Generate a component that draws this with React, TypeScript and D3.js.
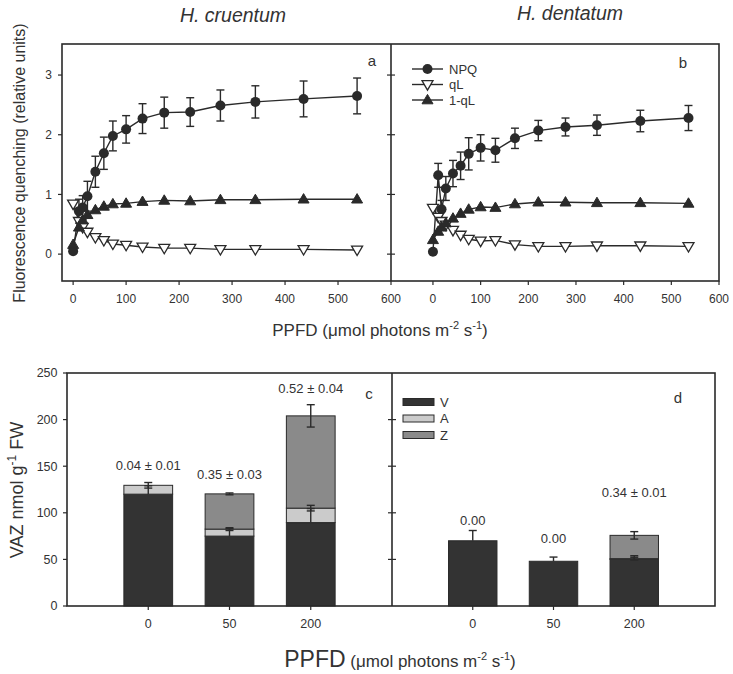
import React from "react";
import * as d3 from "d3";

// ---------- data: panels a & b (light curves) ----------
const ppfd = [0, 11, 18, 27, 42, 58, 75, 100, 131, 172, 221, 278, 344, 435, 536];

const npqCruentum = [0.05, 0.72, 0.78, 0.97, 1.38, 1.69, 1.98, 2.09, 2.27, 2.37, 2.38, 2.49, 2.55, 2.6, 2.65];
const npqCruentumErr = [0.03, 0.2, 0.2, 0.25, 0.26, 0.27, 0.25, 0.23, 0.25, 0.26, 0.24, 0.26, 0.27, 0.3, 0.3];
const qlCruentum = [0.84, 0.55, 0.45, 0.37, 0.28, 0.23, 0.17, 0.15, 0.12, 0.1, 0.1, 0.08, 0.08, 0.08, 0.07];
const oneMinusQlCruentum = [0.16, 0.45, 0.57, 0.66, 0.74, 0.8, 0.84, 0.85, 0.88, 0.9, 0.89, 0.91, 0.91, 0.92, 0.92];

const npqDentatum = [0.04, 1.32, 0.75, 1.1, 1.35, 1.48, 1.68, 1.78, 1.74, 1.94, 2.07, 2.13, 2.16, 2.23, 2.28];
const npqDentatumErr = [0.03, 0.2, 0.15, 0.2, 0.22, 0.23, 0.27, 0.22, 0.2, 0.17, 0.17, 0.15, 0.17, 0.18, 0.21];
const qlDentatum = [0.77, 0.62, 0.55, 0.49, 0.4, 0.32, 0.25, 0.22, 0.23, 0.16, 0.13, 0.13, 0.14, 0.14, 0.13];
const oneMinusQlDentatum = [0.24, 0.38, 0.45, 0.52, 0.6, 0.68, 0.75, 0.79, 0.78, 0.84, 0.87, 0.87, 0.86, 0.86, 0.85];

const lineXTicks = [0, 100, 200, 300, 400, 500, 600];
const lineYTicks = [0, 1, 2, 3];
const lineLegend = ["NPQ", "qL", "1-qL"];

// ---------- data: panels c & d (VAZ pools) ----------
const barCategories = ["0", "50", "200"];
const cruentumV = [120, 75, 89.5];
const cruentumA = [9.5, 7.5, 15.5];
const cruentumZ = [0, 37.8, 99];
const cruentumVErr = [9, 8, 15];
const cruentumAErr = [3, 1.5, 3];
const cruentumZErr = [0, 1, 12];
const cruentumLabels = ["0.04 ± 0.01", "0.35 ± 0.03", "0.52 ± 0.04"];
const cruentumLabelY = [151, 141.5, 233];

const dentatumV = [70, 48, 50];
const dentatumA = [0, 0, 0.8];
const dentatumZ = [0, 0, 25];
const dentatumVErr = [11, 4.5, 4];
const dentatumAErr = [0, 0, 1.5];
const dentatumZErr = [0, 0, 4];
const dentatumLabels = ["0.00", "0.00", "0.34 ± 0.01"];
const dentatumLabelY = [92, 72, 122];

const barYTicks = [0, 50, 100, 150, 200, 250];
const barLegend = ["V", "A", "Z"];

const FONT = "'Liberation Sans', Arial, Helvetica, sans-serif";
const INK = "#2a2a2a";
const TXT = "#333";
const COL_V = "#333333";
const COL_A = "#cbcbcb";
const COL_Z = "#8a8a8a";

function circleMark(x: number, y: number, key: any) {
  return <circle key={key} cx={x} cy={y} r={5} fill={INK} />;
}
function triDown(x: number, y: number, key: any) {
  const s = 5.5;
  return (
    <path key={key} d={`M${x - s},${y - 3.8}L${x + s},${y - 3.8}L${x},${y + 5.6}Z`} fill="#fff" stroke={INK} strokeWidth={1.3} />
  );
}
function triUp(x: number, y: number, key: any) {
  const s = 5.5;
  return <path key={key} d={`M${x - s},${y + 3.8}L${x + s},${y + 3.8}L${x},${y - 5.6}Z`} fill={INK} stroke={INK} strokeWidth={1} />;
}

function LinePanel(props: {
  x: d3.ScaleLinear<number, number>;
  y: d3.ScaleLinear<number, number>;
  npq: number[];
  npqErr: number[];
  ql: number[];
  oneQl: number[];
}) {
  const { x, y, npq, npqErr, ql, oneQl } = props;
  const line = (vals: number[]) =>
    d3.line<number>().x((_, i) => x(ppfd[i])).y((v) => y(v))(vals) || "";
  return (
    <g>
      <path d={line(npq)} fill="none" stroke={INK} strokeWidth={1.4} />
      <path d={line(ql)} fill="none" stroke={INK} strokeWidth={1.4} />
      <path d={line(oneQl)} fill="none" stroke={INK} strokeWidth={1.4} />
      {npq.map((v, i) => {
        const cx = x(ppfd[i]);
        const y1 = y(v + npqErr[i]);
        const y2 = y(v - npqErr[i]);
        return (
          <g key={"e" + i} stroke={INK} strokeWidth={1.4}>
            <line x1={cx} x2={cx} y1={y1} y2={y2} />
            <line x1={cx - 4} x2={cx + 4} y1={y1} y2={y1} />
            <line x1={cx - 4} x2={cx + 4} y1={y2} y2={y2} />
          </g>
        );
      })}
      {npq.map((v, i) => circleMark(x(ppfd[i]), y(v), "c" + i))}
      {ql.map((v, i) => triDown(x(ppfd[i]), y(v), "q" + i))}
      {oneQl.map((v, i) => triUp(x(ppfd[i]), y(v), "o" + i))}
    </g>
  );
}

function BarPanel(props: {
  x: d3.ScaleLinear<number, number>;
  y: d3.ScaleLinear<number, number>;
  V: number[];
  A: number[];
  Z: number[];
  VErr: number[];
  AErr: number[];
  ZErr: number[];
  labels: string[];
  labelY: number[];
}) {
  const { x, y, V, A, Z, VErr, AErr, ZErr, labels, labelY } = props;
  const bw = x(0.6) - x(0);
  return (
    <g>
      {barCategories.map((c, i) => {
        const cx = x(i + 1);
        const segs = [
          { v0: 0, v1: V[i], fill: COL_V, err: VErr[i], lower: false },
          { v0: V[i], v1: V[i] + A[i], fill: COL_A, err: AErr[i], lower: true },
          { v0: V[i] + A[i], v1: V[i] + A[i] + Z[i], fill: COL_Z, err: ZErr[i], lower: true },
        ];
        return (
          <g key={c}>
            {segs.map((s, j) =>
              s.v1 > s.v0 ? (
                <rect
                  key={j}
                  x={cx - bw / 2}
                  width={bw}
                  y={y(s.v1)}
                  height={y(s.v0) - y(s.v1)}
                  fill={s.fill}
                  stroke={INK}
                  strokeWidth={1}
                />
              ) : null
            )}
            {segs.map((s, j) =>
              s.err > 0 && s.v1 > s.v0 ? (
                <g key={"e" + j} stroke={INK} strokeWidth={1.4}>
                  <line x1={cx} x2={cx} y1={y(s.v1 + s.err)} y2={s.lower ? y(s.v1 - s.err) : y(s.v1)} />
                  <line x1={cx - 4} x2={cx + 4} y1={y(s.v1 + s.err)} y2={y(s.v1 + s.err)} />
                  {s.lower ? (
                    <line x1={cx - 4} x2={cx + 4} y1={y(s.v1 - s.err)} y2={y(s.v1 - s.err)} />
                  ) : null}
                </g>
              ) : null
            )}
            <text x={cx} y={y(labelY[i])} dy="0.35em" textAnchor="middle" fontSize={13} fill={TXT}>
              {labels[i]}
            </text>
          </g>
        );
      })}
    </g>
  );
}

export default function App() {
  const W = 733;
  const H = 674;

  // top panels
  const yTop = d3.scaleLinear().domain([-0.45, 3.52]).range([281, 44]);
  const xA = d3.scaleLinear().domain([-21, 600]).range([62, 391]);
  const xB = d3.scaleLinear().domain([-88, 600]).range([391, 719]);

  // bottom panels
  const yBot = d3.scaleLinear().domain([0, 250]).range([606, 373]);
  const xC = d3.scaleLinear().domain([0, 4]).range([67, 392]);
  const xD = d3.scaleLinear().domain([0, 4]).range([392, 715]);

  const legendFills = [COL_V, COL_A, COL_Z];

  return (
    <svg width={W} height={H} viewBox={`0 0 ${W} ${H}`} style={{ display: "block", position: "absolute", left: 0, top: 0, background: "#fff" }} fontFamily={FONT}>
      <rect x={0} y={0} width={W} height={H} fill="#fff" />

      {/* titles */}
      <text x={233} y={22} textAnchor="middle" fontSize={19.5} fontStyle="italic" fill={TXT}>H. cruentum</text>
      <text x={570} y={20} textAnchor="middle" fontSize={19.5} fontStyle="italic" fill={TXT}>H. dentatum</text>

      {/* ---- top panels ---- */}
      <LinePanel x={xA} y={yTop} npq={npqCruentum} npqErr={npqCruentumErr} ql={qlCruentum} oneQl={oneMinusQlCruentum} />
      <LinePanel x={xB} y={yTop} npq={npqDentatum} npqErr={npqDentatumErr} ql={qlDentatum} oneQl={oneMinusQlDentatum} />

      <rect x={62} y={44} width={719 - 62} height={281 - 44} fill="none" stroke={INK} strokeWidth={1.6} />
      <line x1={391} x2={391} y1={44} y2={281} stroke={INK} strokeWidth={1.6} />

      {lineYTicks.map((t) => (
        <g key={"yt" + t}>
          <line x1={58} x2={62} y1={yTop(t)} y2={yTop(t)} stroke={INK} strokeWidth={1.2} />
          <line x1={387} x2={395} y1={yTop(t)} y2={yTop(t)} stroke={INK} strokeWidth={1.2} />
          <text x={52} y={yTop(t)} dy="0.35em" textAnchor="end" fontSize={12} fill={TXT}>{t}</text>
        </g>
      ))}
      {lineXTicks.map((t) => (
        <g key={"xt" + t}>
          <line x1={xA(t)} x2={xA(t)} y1={281} y2={285} stroke={INK} strokeWidth={1.2} />
          <text x={xA(t)} y={302.5} textAnchor="middle" fontSize={12} fill={TXT}>{t}</text>
          <line x1={xB(t)} x2={xB(t)} y1={281} y2={285} stroke={INK} strokeWidth={1.2} />
          <text x={xB(t)} y={302.5} textAnchor="middle" fontSize={12} fill={TXT}>{t}</text>
        </g>
      ))}

      <text x={372} y={66} textAnchor="middle" fontSize={15} fill={TXT}>a</text>
      <text x={683} y={67.5} textAnchor="middle" fontSize={15} fill={TXT}>b</text>

      {/* legend top */}
      {lineLegend.map((name, i) => {
        const ly = 69 + i * 15.5;
        return (
          <g key={name}>
            <line x1={412} x2={443} y1={ly} y2={ly} stroke={INK} strokeWidth={1.4} />
            {i === 0 ? circleMark(427.5, ly, "lc") : i === 1 ? triDown(427.5, ly, "lq") : triUp(427.5, ly, "lo")}
            <text x={449} y={ly} dy="0.36em" fontSize={13} fill={TXT}>{name}</text>
          </g>
        );
      })}

      <text transform="translate(25,163) rotate(-90)" textAnchor="middle" fontSize={16} fill={TXT}>
        Fluorescence quenching (relative units)
      </text>
      <text x={380} y={336} textAnchor="middle" fontSize={17} fill={TXT}>
        PPFD (μmol photons m<tspan fontSize={11} dy={-7}>-2</tspan>
        <tspan dy={7}> s</tspan>
        <tspan fontSize={11} dy={-7}>-1</tspan>
        <tspan dy={7}>)</tspan>
      </text>

      {/* ---- bottom panels ---- */}
      <BarPanel x={xC} y={yBot} V={cruentumV} A={cruentumA} Z={cruentumZ} VErr={cruentumVErr} AErr={cruentumAErr} ZErr={cruentumZErr} labels={cruentumLabels} labelY={cruentumLabelY} />
      <BarPanel x={xD} y={yBot} V={dentatumV} A={dentatumA} Z={dentatumZ} VErr={dentatumVErr} AErr={dentatumAErr} ZErr={dentatumZErr} labels={dentatumLabels} labelY={dentatumLabelY} />

      <rect x={67} y={373} width={715 - 67} height={606 - 373} fill="none" stroke={INK} strokeWidth={1.6} />
      <line x1={392} x2={392} y1={373} y2={606} stroke={INK} strokeWidth={1.6} />

      {barYTicks.map((t) => (
        <g key={"byt" + t}>
          <line x1={63} x2={67} y1={yBot(t)} y2={yBot(t)} stroke={INK} strokeWidth={1.2} />
          {t > 0 && t < 250 ? <line x1={388} x2={396} y1={yBot(t)} y2={yBot(t)} stroke={INK} strokeWidth={1.2} /> : null}
          <text x={57.5} y={yBot(t)} dy="0.35em" textAnchor="end" fontSize={12.5} fill={TXT}>{t}</text>
        </g>
      ))}
      {barCategories.map((c, i) => (
        <g key={"bxt" + c}>
          <line x1={xC(i + 1)} x2={xC(i + 1)} y1={606} y2={610} stroke={INK} strokeWidth={1.2} />
          <text x={xC(i + 1)} y={627.5} textAnchor="middle" fontSize={12.5} fill={TXT}>{c}</text>
          <line x1={xD(i + 1)} x2={xD(i + 1)} y1={606} y2={610} stroke={INK} strokeWidth={1.2} />
          <text x={xD(i + 1)} y={627.5} textAnchor="middle" fontSize={12.5} fill={TXT}>{c}</text>
        </g>
      ))}

      <text x={369} y={399} textAnchor="middle" fontSize={15} fill={TXT}>c</text>
      <text x={678} y={402.5} textAnchor="middle" fontSize={15} fill={TXT}>d</text>

      {/* legend bottom */}
      {barLegend.map((name, i) => {
        const ly = 402 + i * 16.5;
        return (
          <g key={name}>
            <rect x={403} y={ly - 3.5} width={31} height={7} fill={legendFills[i]} stroke={INK} strokeWidth={1} />
            <text x={440} y={ly} dy="0.36em" fontSize={13} fill={TXT}>{name}</text>
          </g>
        );
      })}

      <text transform="translate(23,490) rotate(-90)" textAnchor="middle" fontSize={18} fill={TXT}>
        VAZ nmol g<tspan fontSize={12} dy={-7}>-1</tspan>
        <tspan dy={7}> FW</tspan>
      </text>
      <text x={400} y={667} textAnchor="middle" fill={TXT} fontSize={17}>
        <tspan fontSize={23}>PPFD</tspan> (μmol photons m<tspan fontSize={11} dy={-7}>-2</tspan>
        <tspan dy={7}> s</tspan>
        <tspan fontSize={11} dy={-7}>-1</tspan>
        <tspan dy={7}>)</tspan>
      </text>
    </svg>
  );
}
